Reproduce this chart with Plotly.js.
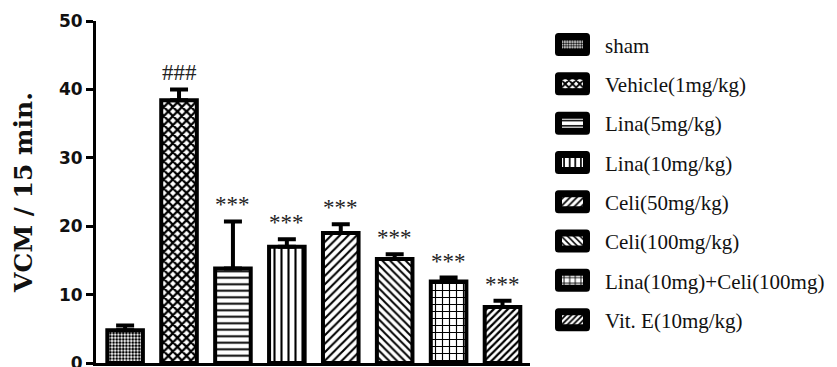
<!DOCTYPE html>
<html>
<head>
<meta charset="utf-8">
<script src="https://cdn.plot.ly/plotly-3.0.1.min.js"></script>
<style>html,body{margin:0;padding:0;background:#fff;}#chart{width:837px;height:367px;}</style>
</head>
<body>
<div id="chart"></div>
<script>
const groups = ["sham","Vehicle(1mg/kg)","Lina(5mg/kg)","Lina(10mg/kg)","Celi(50mg/kg)","Celi(100mg/kg)","Lina(10mg)+Celi(100mg)","Vit. E(10mg/kg)"];
const means = [4.8, 38.4, 13.8, 17.0, 19.0, 15.2, 11.9, 8.2];
const sems = [0.7, 1.6, 6.9, 1.1, 1.3, 0.7, 0.6, 0.9];
const sigLabels = ["", "###", "***", "***", "***", "***", "***", "***"];
const yTicks = [0, 10, 20, 30, 40, 50];

const patterns = [
  {shape: ".", size: 3.2, solidity: 0.55},
  {shape: "x", size: 6.4, solidity: 0.6},
  {shape: "-", size: 6.5, solidity: 0.3},
  {shape: "|", size: 7, solidity: 0.3},
  {shape: "/", size: 6, solidity: 0.35},
  {shape: "\\", size: 5.5, solidity: 0.35},
  {shape: "+", size: 7, solidity: 0.3},
  {shape: "/", size: 5, solidity: 0.45}
];

const traces = groups.map((g, i) => ({
  type: "bar",
  name: g,
  x: [i],
  y: [means[i]],
  width: 0.66,
  legendgroup: "g" + i,
  marker: {
    color: "#ffffff",
    line: {color: "#000", width: 4},
    pattern: Object.assign({fgcolor: "#000", bgcolor: "#fff", fillmode: "replace"}, patterns[i])
  },
  error_y: {type: "data", symmetric: false, array: [sems[i]], arrayminus: [0], color: "#000", thickness: 4, width: 9},
  hoverinfo: "skip"
}));

const annotations = groups.map((g, i) => ({
  x: i, y: means[i] + sems[i], xref: "x", yref: "y",
  text: sigLabels[i], showarrow: false, yanchor: "bottom", yshift: 2,
  font: {family: "Liberation Serif", size: 23, color: "#222"}
})).filter(a => a.text);

const layout = {
  width: 837, height: 367,
  margin: {l: 96, r: 307, t: 21, b: 4},
  paper_bgcolor: "#fff", plot_bgcolor: "#fff",
  barmode: "overlay",
  showlegend: true,
  legend: {
    x: 1.023, xanchor: "left", y: 0.99, yanchor: "top",
    traceorder: "grouped", tracegroupgap: 9,
    font: {family: "Liberation Serif", size: 21, color: "#111"},
    itemwidth: 55
  },
  xaxis: {
    range: [-0.54, 7.51], showticklabels: false, ticks: "", showgrid: false, zeroline: false,
    showline: true, linecolor: "#000", linewidth: 3
  },
  yaxis: {
    range: [0, 50], tickvals: yTicks, ticks: "outside", ticklen: 7, tickwidth: 3, tickcolor: "#000",
    ticklabeloverflow: "allow",
    showgrid: false, zeroline: false, showline: true, linecolor: "#000", linewidth: 3,
    tickfont: {family: "DejaVu Sans", size: 17, color: "#111", weight: "bold"},
    title: {text: "VCM / 15 min.", standoff: 20, font: {family: "DejaVu Serif", size: 25, color: "#111", weight: "bold"}}
  },
  annotations: annotations
};

Plotly.newPlot("chart", traces, layout, {displayModeBar: false, staticPlot: true}).then(() => {
  document.querySelectorAll("#chart .legend .legendpoints path").forEach(p => {
    p.setAttribute("d", "M14,8H-14V-8H14Z");
    p.style.strokeWidth = "7px";
    p.style.strokeLinejoin = "round";
  });
});
</script>
</body>
</html>
